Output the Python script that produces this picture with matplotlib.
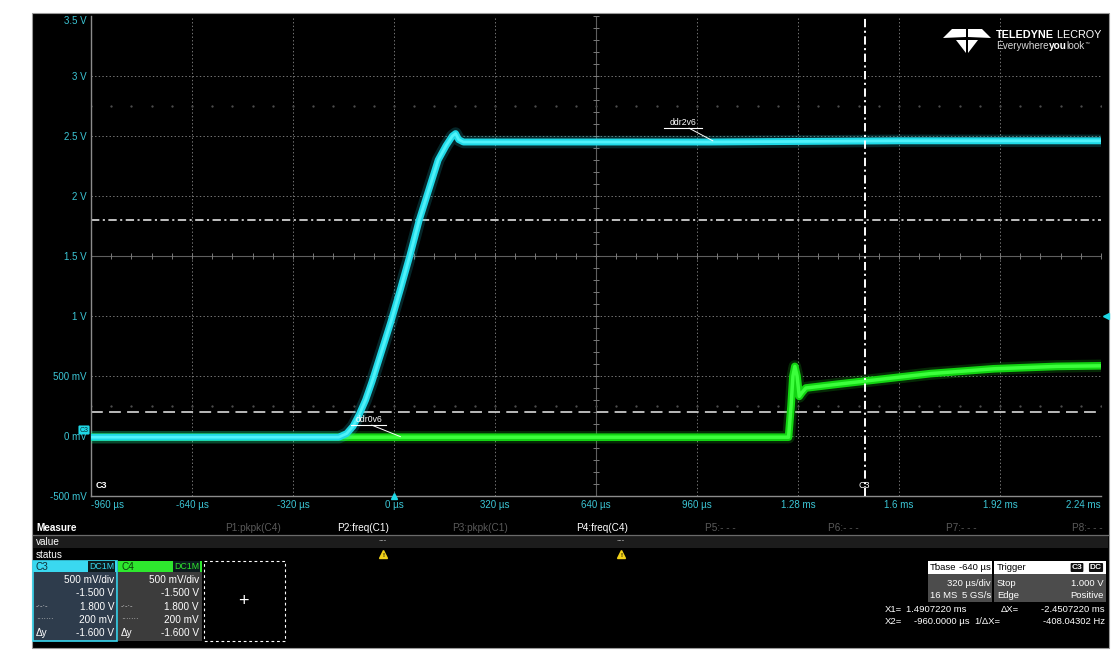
import matplotlib
matplotlib.use("Agg")
import matplotlib.pyplot as plt
from matplotlib.patches import Rectangle, Polygon

plt.rcParams['font.family'] = ['Liberation Sans', 'DejaVu Sans']
plt.rcParams['lines.scale_dashes'] = False

# waveforms (time in us, level in V)
t_c3 = [-960, -400, -175, -150, -130, -110, -90, -70, -40, -10, 20, 50, 80, 110,
        140, 165, 185, 195, 205, 220, 600, 1000, 1600, 2240]
v_c3 = [-0.01, -0.01, -0.01, 0.02, 0.08, 0.18, 0.30, 0.45, 0.70, 0.95, 1.22, 1.50,
        1.80, 2.05, 2.30, 2.42, 2.50, 2.52, 2.47, 2.45, 2.45, 2.45, 2.46, 2.46]

t_c4 = [-960, 1250, 1258, 1264, 1270, 1277, 1284, 1292, 1305, 1400, 1500, 1600,
        1700, 1800, 1900, 2000, 2100, 2240]
v_c4 = [-0.01, -0.01, 0.25, 0.50, 0.58, 0.50, 0.33, 0.36, 0.40, 0.43, 0.46, 0.49,
        0.52, 0.54, 0.56, 0.57, 0.58, 0.585]

x_ticks = [-960, -640, -320, 0, 320, 640, 960, 1280, 1600, 1920, 2240]
x_labels = ['-960 µs', '-640 µs', '-320 µs', '0 µs', '320 µs', '640 µs', '960 µs',
            '1.28 ms', '1.6 ms', '1.92 ms', '2.24 ms']
y_ticks = [-0.5, 0, 0.5, 1, 1.5, 2, 2.5, 3, 3.5]
y_labels = ['-500 mV', '0 mV', '500 mV', '1 V', '1.5 V', '2 V', '2.5 V', '3 V', '3.5 V']

cursor_x1 = 1490.722
cursor_h1 = 1.8   # dash-dot
cursor_h2 = 0.2   # dashed
trig_level = 1.0

meas_names = ['P1:pkpk(C4)', 'P2:freq(C1)', 'P3:pkpk(C1)', 'P4:freq(C4)',
              'P5:- - -', 'P6:- - -', 'P7:- - -', 'P8:- - -']
meas_active = [False, True, False, True, False, False, False, False]
ch_rows = ['500 mV/div', '-1.500 V', '1.800 V', '200 mV', '-1.600 V']

CYAN = '#1fd8e6'
GREEN = '#1ee61e'
LBL = '#3cc6d6'
W, H = 1116, 653
FS = 7.2

fig = plt.figure(figsize=(W / 100, H / 100), dpi=100, facecolor='white')

# black screen behind everything
bg = fig.add_axes([0, 0, 1, 1])
bg.set_xlim(0, W)
bg.set_ylim(H, 0)
bg.axis('off')
bg.add_patch(Rectangle((32, 13), 1077, 635, facecolor='black', edgecolor='#9a9a9a', lw=0.8))

# grid area
ax = fig.add_axes([91 / W, (H - 496) / H, 1010 / W, 480 / H])
ax.set_facecolor('black')
ax.set_xlim(-960, 2240)
ax.set_ylim(-0.5, 3.5)
for s in ['top', 'right']:
    ax.spines[s].set_visible(False)
for s in ['left', 'bottom']:
    ax.spines[s].set_color('#8c8c8c')
    ax.spines[s].set_linewidth(1.0)

ax.set_xticks(x_ticks, x_labels)
ax.set_yticks(y_ticks, y_labels)
ax.tick_params(colors=LBL, length=0, labelsize=7)
ax.tick_params(axis='y', pad=3)
ax.tick_params(axis='x', pad=3)
xl = ax.get_xticklabels()
xl[0].set_ha('left')
xl[-1].set_ha('right')
ax.get_yticklabels()[-1].set_va('top')

for xv in x_ticks[1:-1]:
    if xv != 640:
        ax.axvline(xv, color='#767676', lw=0.7, ls=(0, (1, 1.6)), zorder=1)
for yv in y_ticks[1:-1]:
    if yv != 1.5:
        ax.axhline(yv, color='#767676', lw=0.7, ls=(0, (1, 1.6)), zorder=1)

# centre cross with minor ticks
ax.axhline(1.5, color='#5e5e5e', lw=0.8, zorder=1)
ax.axvline(640, color='#5e5e5e', lw=0.8, zorder=1)
minor_t = [x_ticks[0] + 64 * i for i in range(51)]
minor_v = [-0.5 + 0.1 * i for i in range(41)]
ax.plot(minor_t, [1.5] * len(minor_t), ls='none', marker='|', ms=5, mew=0.7, color='#7a7a7a', zorder=1)
ax.plot([640] * len(minor_v), minor_v, ls='none', marker='_', ms=5, mew=0.7, color='#7a7a7a', zorder=1)
for yr in [2.75, 0.25]:
    ax.plot(minor_t, [yr] * len(minor_t), ls='none', marker='.', ms=1.3, color='#505050', zorder=1)

# cursors
ax.axhline(cursor_h1, color='#d0d0d0', lw=1.3, ls=(0, (6, 2.5, 1.5, 2.5)), zorder=2)
ax.axhline(cursor_h2, color='#c8c8c8', lw=1.3, ls=(0, (8.5, 4.5)), zorder=2)

# traces: green under cyan, faint wide stroke stands in for the noise spikes
ax.plot(t_c4, v_c4, color=GREEN, lw=9, alpha=0.18, solid_joinstyle='round', zorder=3)
ax.plot(t_c4, v_c4, color='#12d412', lw=5.5, solid_joinstyle='round', zorder=3)
ax.plot(t_c4, v_c4, color='#3cff3c', lw=2.5, solid_joinstyle='round', zorder=3)
ax.plot(t_c3, v_c3, color=CYAN, lw=9, alpha=0.18, solid_joinstyle='round', zorder=4)
ax.plot(t_c3, v_c3, color=CYAN, lw=5, solid_joinstyle='round', zorder=4)
ax.plot(t_c3, v_c3, color='#50f2fa', lw=2, solid_joinstyle='round', zorder=4)

ax.axvline(cursor_x1, color='white', lw=1.4, ls=(0, (6, 2.5, 1.5, 2.5)), zorder=5)

# trace labels
ax.text(872, 2.59, 'ddr2v6', color='white', fontsize=6.2, zorder=6)
ax.plot([855, 975], [2.565, 2.565], color='white', lw=0.8, zorder=6)
ax.plot([935, 1010], [2.565, 2.46], color='white', lw=0.7, zorder=6)
ax.text(-122, 0.115, 'ddr0v6', color='white', fontsize=6.2, zorder=6)
ax.plot([-135, -25], [0.09, 0.09], color='white', lw=0.8, zorder=6)
ax.plot([-70, 20], [0.09, -0.005], color='white', lw=0.7, zorder=6)

ax.text(-945, -0.43, 'C3', color='white', fontsize=6.5, fontweight='bold', zorder=6)
ax.text(cursor_x1, -0.43, 'C3', color='white', fontsize=6.5, ha='center', zorder=6)

# trigger markers
ax.plot([0], [-0.5], marker='^', ms=5, color=CYAN, clip_on=False, zorder=6)
ax.plot([2255], [trig_level], marker='<', ms=5, color=CYAN, clip_on=False, zorder=6)

# overlay for panel text
ov = fig.add_axes([0, 0, 1, 1], facecolor='none')
ov.set_xlim(0, W)
ov.set_ylim(H, 0)
ov.axis('off')

ov.text(84, 430, 'C3', fontsize=5, color='#0a3036', ha='center', va='center',
        bbox=dict(boxstyle='round,pad=0.15', fc=CYAN, ec='none'))

# logo
ov.add_patch(Polygon([(943, 38), (952, 29), (966, 29), (966, 37)], fc='white', ec='none'))
ov.add_patch(Polygon([(991, 38), (982, 29), (968, 29), (968, 37)], fc='white', ec='none'))
ov.add_patch(Polygon([(956, 40), (966, 40), (966, 53)], fc='white', ec='none'))
ov.add_patch(Polygon([(968, 40), (978, 40), (968, 53)], fc='white', ec='none'))

renderer = fig.canvas.get_renderer()


def run_text(x, y, pieces, size):
    for txt, wt, col in pieces:
        t = ov.text(x, y, txt, fontsize=size, fontweight=wt, color=col, va='center')
        x += t.get_window_extent(renderer).width
    return x


run_text(996, 35, [('TELEDYNE', 'bold', 'white'), (' LECROY', 'normal', 'white')], 7.8)
xe = run_text(996, 46, [('Everywhere', 'normal', '#d8d8d8'), ('you', 'bold', 'white'),
                        ('look', 'normal', '#d8d8d8')], 7.2)
ov.text(xe, 43, '™', color='#d8d8d8', fontsize=3.5, va='center')

# measure table
ov.text(36, 528, 'Measure', color='white', fontsize=FS, fontweight='bold', va='center')
meas_right = [281, 389, 508, 628, 736, 859, 977, 1103]
for name, act, xr in zip(meas_names, meas_active, meas_right):
    ov.text(xr, 528, name, color='white' if act else '#5a5a5a', fontsize=FS, ha='right', va='center')
ov.add_patch(Rectangle((33, 535), 1075, 13, fc='#1c1c1c', ec='none'))
ov.plot([33, 1108], [535, 535], color='#6a6a6a', lw=0.9)
ov.text(36, 542, 'value', color='white', fontsize=FS, va='center')
ov.text(36, 555, 'status', color='white', fontsize=FS, va='center')
for xr in [383, 621]:
    ov.text(xr, 541, '---', color='#bbbbbb', fontsize=6, ha='center', va='center')
    ov.plot([xr], [554], marker='^', ms=6, color='#f2d21a', ls='none')
    ov.text(xr, 555.5, '!', color='black', fontsize=4.5, ha='center', va='center', fontweight='bold')


def channel_box(x0, name, col, body):
    ov.add_patch(Rectangle((x0, 561), 84, 80, fc=body, ec=col if name == 'C3' else 'none', lw=1.2))
    ov.add_patch(Rectangle((x0, 561), 84, 11, fc=col, ec='none'))
    ov.text(x0 + 3, 566.5, name, color='#103038' if name == 'C3' else '#0a400a', fontsize=FS, va='center')
    ov.text(x0 + 81, 566.5, 'DC1M', color=col, fontsize=6.3, ha='right', va='center',
            bbox=dict(boxstyle='square,pad=0.1', fc='#0c1a1c', ec='none'))
    ys = [580, 593, 607, 620, 633]
    for v, yy in zip(ch_rows, ys):
        ov.text(x0 + 81, yy, v, color='white', fontsize=FS, ha='right', va='center')
    ov.text(x0 + 3, 607, '-·-·-', color='#cccccc', fontsize=5.5, va='center')
    ov.text(x0 + 3, 620, '·······', color='#cccccc', fontsize=5.5, va='center')
    ov.text(x0 + 3, 633, 'Δy', color='white', fontsize=FS, va='center')


channel_box(33, 'C3', '#3ad8f0', '#2e3c4c')
channel_box(118, 'C4', '#2ee82e', '#3c3c3c')
ov.add_patch(Rectangle((204, 561), 81, 80, fc='black', ec='white', lw=0.8, ls=(0, (2, 2))))
ov.text(243, 602, '+', color='white', fontsize=13, ha='center', va='center')

# timebase / trigger
FR = 6.8
ov.add_patch(Rectangle((928, 561), 64, 13, fc='white', ec='none'))
ov.add_patch(Rectangle((928, 574), 64, 28, fc='#4c4c4c', ec='none'))
ov.text(930, 567.5, 'Tbase', color='black', fontsize=6.8, va='center')
ov.text(991, 567.5, '-640 µs', color='black', fontsize=6.8, ha='right', va='center')
ov.text(991, 583, '320 µs/div', color='white', fontsize=FR, ha='right', va='center')
ov.text(930, 596, '16 MS', color='white', fontsize=FR, va='center')
ov.text(991, 596, '5 GS/s', color='white', fontsize=FR, ha='right', va='center')

ov.add_patch(Rectangle((994, 561), 112, 13, fc='white', ec='none'))
ov.add_patch(Rectangle((994, 574), 112, 28, fc='#4c4c4c', ec='none'))
ov.text(997, 567.5, 'Trigger', color='black', fontsize=FR, va='center')
ov.text(1077, 567.5, 'C3', color='white', fontsize=6, ha='center', va='center', fontweight='bold',
        bbox=dict(boxstyle='round,pad=0.12', fc='#101010', ec='none'))
ov.text(1096, 567.5, 'DC', color='white', fontsize=6, ha='center', va='center', fontweight='bold',
        bbox=dict(boxstyle='round,pad=0.12', fc='#101010', ec='none'))
ov.text(997, 583, 'Stop', color='white', fontsize=FR, va='center')
ov.text(1104, 583, '1.000 V', color='white', fontsize=FR, ha='right', va='center')
ov.text(997, 596, 'Edge', color='white', fontsize=FR, va='center')
ov.text(1104, 596, 'Positive', color='white', fontsize=FR, ha='right', va='center')

# cursor readouts
ov.text(885, 609, 'X1=', color='white', fontsize=FR, va='center')
ov.text(966, 609, '1.4907220 ms', color='white', fontsize=FR, ha='right', va='center')
ov.text(1001, 609, 'ΔX=', color='white', fontsize=FR, va='center')
ov.text(1105, 609, '-2.4507220 ms', color='white', fontsize=FR, ha='right', va='center')
ov.text(885, 622, 'X2=', color='white', fontsize=FR, va='center')
ov.text(970, 622, '-960.0000 µs', color='white', fontsize=FR, ha='right', va='center')
ov.text(974, 622, '1/ΔX=', color='white', fontsize=FR, va='center')
ov.text(1105, 622, '-408.04302 Hz', color='white', fontsize=FR, ha='right', va='center')

fig.savefig('out.png', dpi=100, facecolor='white')
